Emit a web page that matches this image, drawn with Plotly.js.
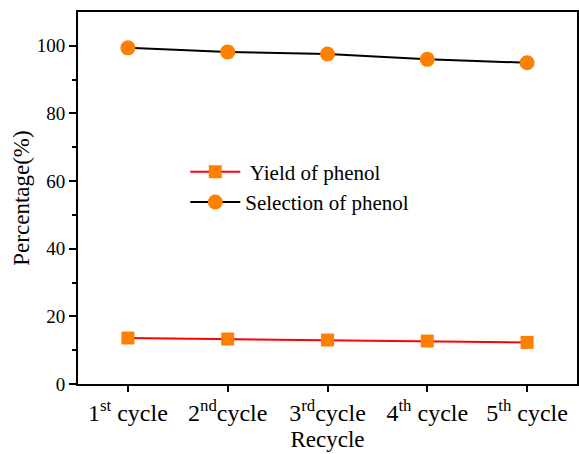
<!DOCTYPE html>
<html><head><meta charset="utf-8">
<script src="https://cdn.plot.ly/plotly-3.0.1.min.js"></script>
<style>html,body{margin:0;padding:0;background:#fff}#chart{width:579px;height:454px}</style>
</head><body><div id="chart"></div>
<script>
const categories = ["1<sup>st</sup> cycle", "2<sup>nd</sup>cycle", "3<sup>rd</sup>cycle", "4<sup>th</sup> cycle", "5<sup>th</sup> cycle"];
const yieldPhenol = [13.6, 13.3, 13.0, 12.7, 12.3];
const selectionPhenol = [99.4, 98.2, 97.6, 96.0, 95.0];
const seriesNames = [" Yield of phenol", "Selection of phenol"];

const idx = categories.map((c, i) => i);
const fam = "'Liberation Serif', 'Times New Roman', serif";
function f(size) { return {family: fam, size: size, color: "#000"}; }

const traces = [
  {x: idx, y: yieldPhenol, name: seriesNames[0], mode: "lines+markers", type: "scatter",
   line: {color: "#ff0000", width: 2}, marker: {symbol: "square", size: 13, color: "#ff8000"}},
  {x: idx, y: selectionPhenol, name: seriesNames[1], mode: "lines+markers", type: "scatter",
   line: {color: "#000000", width: 2}, marker: {symbol: "circle", size: 15, color: "#ff8000"}}
];

const layout = {
  width: 579, height: 454,
  margin: {l: 78, r: 2, t: 12, b: 70},
  paper_bgcolor: "#fff", plot_bgcolor: "#fff",
  font: f(17),
  showlegend: true,
  legend: {x: 0.215, y: 0.625, xanchor: "left", yanchor: "top", bgcolor: "rgba(0,0,0,0)",
    font: f(21), tracegroupgap: 0, itemwidth: 50},
  xaxis: {
    range: [-0.5, 4.5], tickvals: idx, ticktext: categories,
    showgrid: false, zeroline: false, showline: true, linecolor: "#000", linewidth: 2,
    mirror: true, ticks: "outside", ticklen: 6, tickwidth: 2, tickcolor: "#000",
    tickfont: f(24),
    title: {text: "Recycle", font: f(23), standoff: 6}
  },
  yaxis: {
    range: [0, 110], tickvals: [0, 20, 40, 60, 80, 100],
    showgrid: false, zeroline: false, showline: true, linecolor: "#000", linewidth: 2,
    mirror: true, ticks: "outside", ticklen: 7, tickwidth: 2, tickcolor: "#000",
    minor: {tickvals: [10, 30, 50, 70, 90], ticks: "outside", ticklen: 4, tickwidth: 2, tickcolor: "#000"},
    tickfont: f(19),
    title: {text: "Percentage(%)", font: f(23), standoff: 1}
  }
};

Plotly.newPlot("chart", traces, layout, {displayModeBar: false, staticPlot: true});
</script></body></html>
